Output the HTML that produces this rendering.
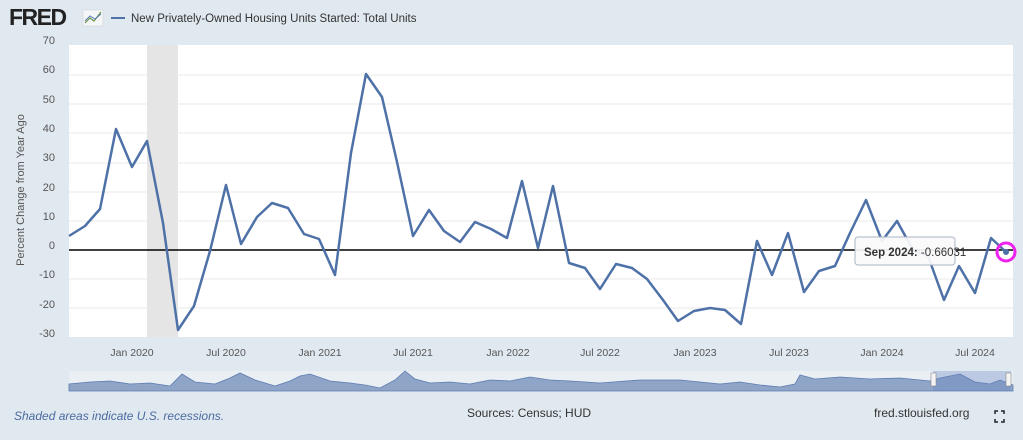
<!DOCTYPE html>
<html><head><meta charset="utf-8"><style>
body{margin:0;background:#e1e9f0;}
svg{display:block;font-family:"Liberation Sans",sans-serif;}
</style></head><body>
<svg width="1023" height="440" viewBox="0 0 1023 440">
<rect width="1023" height="440" fill="#e1e9f0"/>
<text x="9" y="25" font-size="23" font-weight="bold" fill="#222" letter-spacing="-1.5">FRED</text>
<rect x="83" y="10" width="20" height="16" fill="#f4f6f8" stroke="#ccc" stroke-width="0.5"/>
<polyline points="85,23 90,18 94,21 101,12" fill="none" stroke="#6a9a4a" stroke-width="1.2"/>
<polyline points="85,21 90,16 95,19 101,14" fill="none" stroke="#5a7bb5" stroke-width="1"/>
<line x1="111" y1="18" x2="125" y2="18" stroke="#4e71a8" stroke-width="2"/>
<text x="131" y="22" font-size="11.5" fill="#333">New Privately-Owned Housing Units Started: Total Units</text>
<rect x="69" y="45" width="944" height="292" fill="#fff"/>
<rect x="147" y="45" width="31" height="292" fill="#e5e5e5"/>
<g stroke="#e8e8e8" stroke-width="1">
<line x1="69" y1="75" x2="1013" y2="75"/><line x1="69" y1="104" x2="1013" y2="104"/>
<line x1="69" y1="133" x2="1013" y2="133"/><line x1="69" y1="163" x2="1013" y2="163"/>
<line x1="69" y1="192" x2="1013" y2="192"/><line x1="69" y1="221" x2="1013" y2="221"/>
<line x1="69" y1="279" x2="1013" y2="279"/><line x1="69" y1="308" x2="1013" y2="308"/>
</g>
<g font-size="11" fill="#555" text-anchor="end">
<text x="55" y="44">70</text><text x="55" y="73">60</text><text x="55" y="103">50</text>
<text x="55" y="132">40</text><text x="55" y="161">30</text><text x="55" y="191">20</text>
<text x="55" y="220">10</text><text x="55" y="249">0</text><text x="55" y="278">-10</text>
<text x="55" y="308">-20</text><text x="55" y="337">-30</text>
</g>
<text transform="translate(24,190) rotate(-90)" font-size="11" fill="#555" text-anchor="middle">Percent Change from Year Ago</text>
<line x1="69" y1="250" x2="1013" y2="250" stroke="#000" stroke-width="1.6"/>
<g font-size="10.5" fill="#555" text-anchor="middle">
<text x="132" y="356">Jan 2020</text><text x="226" y="356">Jul 2020</text><text x="320" y="356">Jan 2021</text>
<text x="413" y="356">Jul 2021</text><text x="508" y="356">Jan 2022</text><text x="600" y="356">Jul 2022</text>
<text x="695" y="356">Jan 2023</text><text x="789" y="356">Jul 2023</text><text x="882" y="356">Jan 2024</text>
<text x="975" y="356">Jul 2024</text>
</g>
<polyline fill="none" stroke="#4e71a8" stroke-width="2.5" stroke-linejoin="round" points="69,236 85,226 100,209 116,129 132,167 147,141 163,223 178,330 194,306 210,251 226,185 241,244 257,217 272,203 288,208 304,234 319,239 335,275 351,153 366,74 382,97 397,162 413,236 429,210 444,231 460,242 475,222 491,229 507,238 522,181 538,248 553,186 569,263 585,268 600,289 616,264 632,268 647,279 663,300 678,321 694,311 710,308 725,310 741,324 757,241 772,275 788,233 804,292 819,271 835,266 850,233 866,200 882,241 897,221 913,250 928,256 944,300 959,266 975,293 991,238 1006,252"/>
<g>
<rect x="855" y="237" width="100" height="28" rx="3" fill="#fafafa" fill-opacity="0.92" stroke="#aab5c5"/>
<text x="864" y="256" font-size="11.5" fill="#333"><tspan font-weight="bold">Sep 2024:</tspan> -0.66031</text>
</g>
<circle cx="1006" cy="252" r="3" fill="#4e71a8"/>
<circle cx="1006" cy="252" r="9" fill="none" stroke="#ee22ee" stroke-width="3"/>
<rect x="69" y="371" width="944" height="20" fill="#fff" fill-opacity="0.3"/>
<polygon fill="#8fa5c8" stroke="#5d7bb0" stroke-width="0.8" points="69,391 69,384 90,382 110,381 130,384 150,383 170,386 182,374 195,382 215,384 230,378 240,373 255,380 275,386 290,381 300,376 310,374 330,381 350,383 365,385 380,388 395,380 405,371 415,379 430,383 450,382 470,384 490,380 510,381 530,377 550,380 570,381 600,383 640,380 680,380 700,382 720,384 740,382 760,385 780,387 795,384 800,375 815,379 840,377 870,379 900,378 930,381 940,378 960,374 975,382 990,384 1000,380 1013,385 1013,391"/>
<rect x="933" y="371" width="78" height="20" fill="#6685c0" fill-opacity="0.35"/>
<rect x="931" y="373" width="5" height="13" fill="#f4f4f4" stroke="#888" stroke-width="0.6"/>
<rect x="1006" y="373" width="5" height="13" fill="#f4f4f4" stroke="#888" stroke-width="0.6"/>
<text x="14" y="420" font-size="12" font-style="italic" fill="#4a6aa0">Shaded areas indicate U.S. recessions.</text>
<text x="467" y="417" font-size="12" fill="#333">Sources: Census; HUD</text>
<text x="874" y="417" font-size="12" fill="#333">fred.stlouisfed.org</text>
<g stroke="#222" stroke-width="1.5" fill="none">
<polyline points="995,414 995,411 998,411"/><polyline points="1001,411 1004,411 1004,414"/>
<polyline points="995,419 995,422 998,422"/><polyline points="1001,422 1004,422 1004,419"/>
</g>
</svg>
</body></html>
